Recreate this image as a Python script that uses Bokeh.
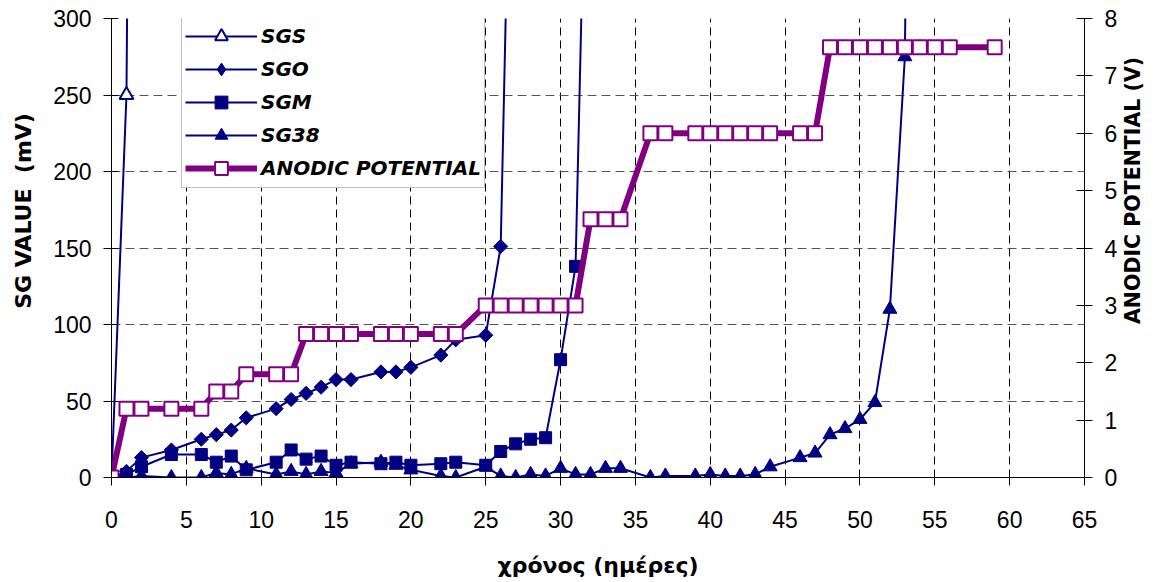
import math
from bokeh.plotting import figure
from bokeh.layouts import row
from bokeh.models import Range1d, LinearAxis, Legend, LegendItem, FixedTicker
from bokeh.core.properties import value
from bokeh.embed import file_html
from bokeh.resources import INLINE

# ---- data ----
sgs_days = [0, 1, 2]
sgs_vals = [0, 250, 1500]

sgo_days = [0, 1, 2, 4, 6, 7, 8, 9, 11, 12, 13, 14, 15, 16, 18, 19, 20, 22, 23, 25, 26, 27]
sgo_vals = [0, 4, 13, 18, 25, 28, 31, 39, 45, 51, 55, 59, 64, 64, 69, 69, 72, 80, 90, 93, 151, 600]

sgm_days = [0, 1, 2, 4, 6, 7, 8, 9, 11, 12, 13, 14, 15, 16, 18, 19, 20, 22, 23, 25, 26, 27,
            28, 29, 30, 31, 32]
sgm_vals = [0, 2, 7, 15, 15, 10, 14, 5, 10, 18, 12, 14, 8, 10, 9, 10, 8, 9, 10, 8, 17, 22,
            25, 26, 77, 138, 560]

sg38_days = [0, 1, 2, 4, 6, 7, 8, 9, 11, 12, 13, 14, 15, 16, 18, 19, 20, 22, 23, 25, 26, 27,
             28, 29, 30, 31, 32, 33, 34, 36, 37, 39, 40, 41, 42, 43, 44, 46, 47, 48, 49, 50,
             51, 52, 53, 54]
sg38_vals = [0, 0, 1, 0, 0, 3, 2, 6, 2, 4, 2, 4, 3, 9, 10, 8, 5, 1, 0, 7, 1, 0,
             2, 1, 6, 2, 2, 6, 6, 0, 1, 1, 2, 1, 1, 2, 7, 13, 16, 28, 32, 38,
             49, 110, 275, 1200]

ap_days = [0, 1, 2, 4, 6, 7, 8, 9, 11, 12, 13, 14, 15, 16, 18, 19, 20, 22, 23, 25, 26, 27,
           28, 29, 30, 31, 32, 33, 34, 36, 37, 39, 40, 41, 42, 43, 44, 46, 47, 48, 49, 50,
           51, 52, 53, 54, 55, 56, 59]
ap_vals = [0, 1.2, 1.2, 1.2, 1.2, 1.5, 1.5, 1.8, 1.8, 1.8,
           2.5, 2.5, 2.5, 2.5, 2.5, 2.5, 2.5, 2.5, 2.5,
           3.0, 3.0, 3.0, 3.0, 3.0, 3.0, 3.0,
           4.5, 4.5, 4.5,
           6.0, 6.0, 6.0, 6.0, 6.0, 6.0, 6.0, 6.0, 6.0, 6.0,
           7.5, 7.5, 7.5, 7.5, 7.5, 7.5, 7.5, 7.5, 7.5, 7.5]

x_ticks = list(range(0, 66, 5))
y_ticks = list(range(0, 301, 50))
v_ticks = list(range(0, 9))

series_names = ["SGS", "SGO", "SGM", "SG38", "ANODIC POTENTIAL"]
x_title = "χρόνος (ημέρες)"
y_title = "SG VALUE\u00a0\u00a0(mV)"
y2_title = "ANODIC POTENTIAL (V)"

NAVY = "#000080"
PURPLE = "#800080"
TICK_FONT = "Liberation Sans"
LABEL_FONT = "DejaVu Sans"

H = 582
LEFT_W = 46
RIGHT_W = 33
MAIN_W = 1074

p = figure(width=MAIN_W, height=H, x_range=Range1d(0, 65), y_range=Range1d(0, 300),
           output_backend="svg", toolbar_location=None,
           min_border_left=65, min_border_right=35, min_border_top=18, min_border_bottom=105)
p.extra_y_ranges = {"v": Range1d(0, 8)}
p.outline_line_color = None
p.background_fill_color = "white"
p.border_fill_color = "white"

# axes
p.xaxis.ticker = FixedTicker(ticks=x_ticks)
p.yaxis.ticker = FixedTicker(ticks=y_ticks)
p.xaxis.axis_label = x_title

ax_r = LinearAxis(y_range_name="v", ticker=FixedTicker(ticks=v_ticks))
p.add_layout(ax_r, "right")

for ax in [p.xaxis[0], p.yaxis[0], ax_r]:
    ax.axis_line_color = "black"
    ax.axis_line_width = 1
    ax.major_tick_line_color = "black"
    ax.minor_tick_line_color = None
    ax.major_tick_out = 8
    ax.major_label_text_font = TICK_FONT
    ax.major_label_text_font_size = "23px"
    ax.major_label_text_color = "black"
    ax.axis_label_text_font = LABEL_FONT
    ax.axis_label_text_font_style = "bold"
    ax.axis_label_text_color = "black"

p.xaxis.major_tick_in = 0
p.xaxis.major_label_standoff = 25
p.xaxis.axis_label_text_font_size = "22px"
p.xaxis.axis_label_standoff = 22

p.yaxis.major_tick_in = 7
p.yaxis.major_label_standoff = 12

ax_r.major_tick_in = 8
ax_r.major_label_standoff = 12

# grid
p.xgrid.grid_line_color = "black"
p.xgrid.grid_line_dash = "8 5"
p.xgrid.grid_line_width = 1
p.ygrid.grid_line_color = "#555555"
p.ygrid.grid_line_dash = "9 5"
p.ygrid.grid_line_width = 1

# series
l_sgs = p.line(sgs_days, sgs_vals, line_color=NAVY, line_width=2)
m_sgs = p.scatter(sgs_days[1:2], sgs_vals[1:2], marker="triangle", size=14,
                  line_color=NAVY, line_width=2, fill_color="white")

l_sgo = p.line(sgo_days, sgo_vals, line_color=NAVY, line_width=2)
m_sgo = p.scatter(sgo_days, sgo_vals, marker="square", angle=0.7854, size=10,
                  line_color=NAVY, fill_color=NAVY)
# hidden diamond renderer, used only for the legend glyph
m_sgo_leg = p.scatter(sgo_days, sgo_vals, marker="diamond", size=16,
                      line_color=NAVY, fill_color=NAVY, visible=False)

l_sgm = p.line(sgm_days, sgm_vals, line_color=NAVY, line_width=2)
m_sgm = p.scatter(sgm_days, sgm_vals, marker="square", size=12,
                  line_color=NAVY, fill_color=NAVY)

l_38 = p.line(sg38_days, sg38_vals, line_color=NAVY, line_width=2)
m_38 = p.scatter(sg38_days, sg38_vals, marker="triangle", size=14,
                 line_color=NAVY, fill_color=NAVY)

l_ap = p.line(ap_days, ap_vals, y_range_name="v", line_color=PURPLE, line_width=6)
m_ap = p.scatter(ap_days, ap_vals, y_range_name="v", marker="square", size=14,
                 line_color=PURPLE, line_width=2, fill_color="white")

legend = Legend(items=[
    LegendItem(label=series_names[0], renderers=[l_sgs, m_sgs]),
    LegendItem(label=series_names[1], renderers=[l_sgo, m_sgo_leg]),
    LegendItem(label=series_names[2], renderers=[l_sgm, m_sgm]),
    LegendItem(label=series_names[3], renderers=[l_38, m_38]),
    LegendItem(label=series_names[4], renderers=[l_ap, m_ap]),
], location=(70, 289))
legend.label_text_font = LABEL_FONT
legend.label_text_font_style = "bold italic"
legend.label_text_font_size = "20px"
legend.label_text_color = "black"
legend.glyph_height = 32
legend.label_height = 32
legend.glyph_width = 72
legend.spacing = 1
legend.padding = 3
legend.label_standoff = 4
legend.border_line_color = "#808080"
legend.border_line_width = 1
legend.background_fill_color = "white"
legend.background_fill_alpha = 1
legend.inactive_fill_alpha = 0
legend.margin = 0
p.add_layout(legend, "center")


def title_strip(width, text, cx, cy, size):
    """Narrow panel holding a vertical axis title (pixel coordinates, y downwards)."""
    f = figure(width=width, height=H, x_range=Range1d(0, width), y_range=Range1d(H, 0),
               output_backend="svg", toolbar_location=None,
               x_axis_type=None, y_axis_type=None,
               min_border_left=0, min_border_right=0, min_border_top=0, min_border_bottom=0)
    f.outline_line_color = None
    f.grid.visible = False
    f.background_fill_color = "white"
    f.border_fill_color = "white"
    f.text(x=[cx], y=[cy], text=[text], angle=math.pi / 2,
           text_align="center", text_baseline="middle",
           text_font=value(LABEL_FONT), text_font_style="bold",
           text_font_size=size, text_color="black")
    return f


left_strip = title_strip(LEFT_W, y_title, 23, 244, "22px")
right_strip = title_strip(RIGHT_W, y2_title, 12, 218, "20.5px")

layout = row(left_strip, p, right_strip, spacing=0)

open("out.html", "w").write(file_html(layout, INLINE))
